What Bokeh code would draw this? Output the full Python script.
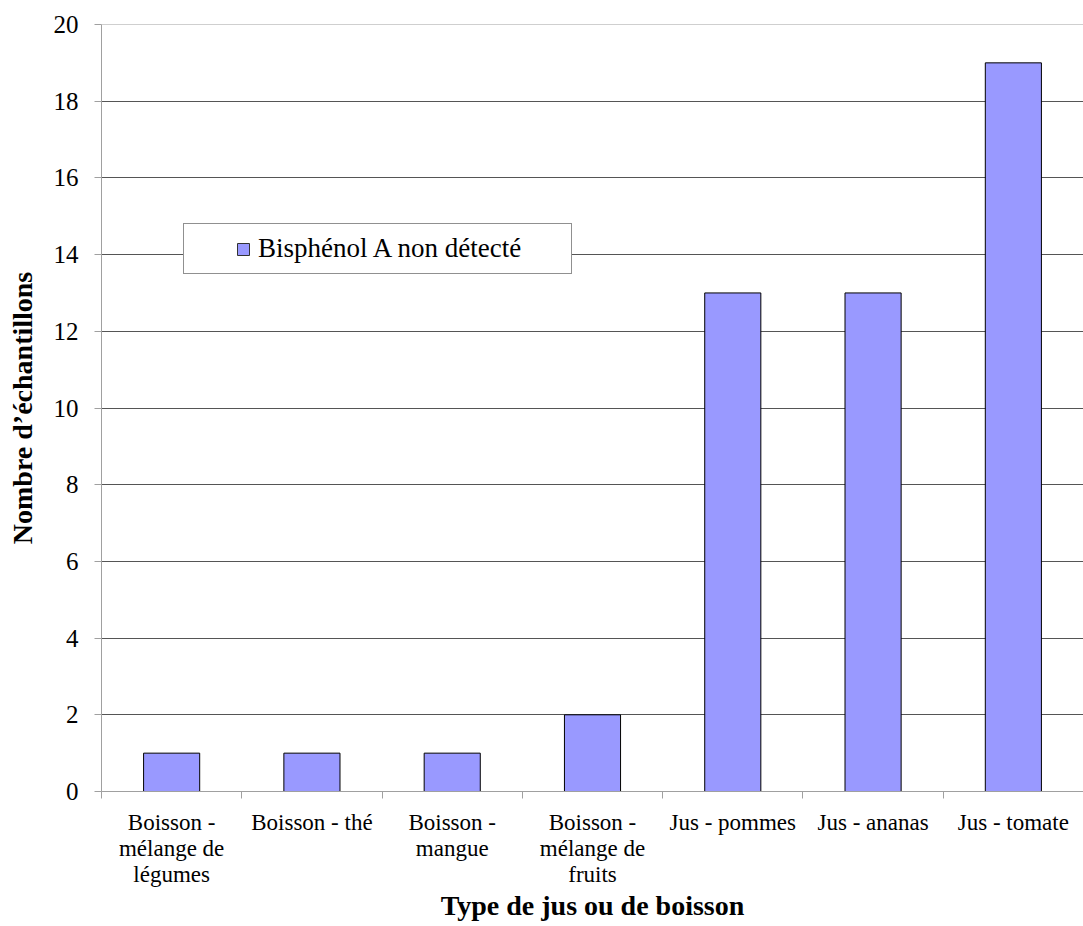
from bokeh.plotting import figure
from bokeh.models import (Range1d, LinearAxis, FixedTicker, Span, Legend, LegendItem,
                          ColumnDataSource, CustomLabelingPolicy)
from bokeh.embed import file_html
from bokeh.resources import INLINE

# Samples without detected bisphenol A, by juice / drink type
categories = ["Boisson - mélange de légumes", "Boisson - thé", "Boisson - mangue",
              "Boisson - mélange de fruits", "Jus - pommes", "Jus - ananas", "Jus - tomate"]
category_labels = ["Boisson -\nmélange de\nlégumes", "Boisson - thé", "Boisson -\nmangue",
                   "Boisson -\nmélange de\nfruits", "Jus - pommes", "Jus - ananas", "Jus - tomate"]
non_detecte = [1, 1, 1, 2, 13, 13, 19]
y_ticks = [0, 2, 4, 6, 8, 10, 12, 14, 16, 18, 20]
series_name = "Bisphénol A non détecté"

FONT = "Liberation Serif"
BAR_FILL = "#9999FF"
AXIS_GREY = "#A0A0A0"
GRID_DARK = "#555555"

# one slot per category: centre of slot i is i + 0.5, slot edges are 0..n
n = len(categories)
centres = [i + 0.5 for i in range(n)]
edges = list(range(n + 1))

src = ColumnDataSource(dict(x=centres, cat=categories, val=non_detecte))

p = figure(width=1083, height=926, output_backend="svg", toolbar_location=None,
           x_range=Range1d(edges[0], edges[-1]),
           y_range=Range1d(y_ticks[0], y_ticks[-1]),
           x_axis_location=None, y_axis_location=None,
           min_border_left=101, min_border_right=0, min_border_top=24, min_border_bottom=135,
           background_fill_color="white", border_fill_color="white")
p.outline_line_color = None
p.xgrid.visible = False

# Horizontal gridlines (dark), top edge drawn in light grey
p.ygrid.ticker = FixedTicker(ticks=y_ticks[1:-1])
p.ygrid.grid_line_color = GRID_DARK
p.ygrid.grid_line_width = 1
p.add_layout(Span(location=y_ticks[-1], dimension="width", line_color=AXIS_GREY, line_width=1))

# Bars
bars = p.vbar(x="x", top="val", width=0.4, source=src,
              fill_color=BAR_FILL, line_color="#000000", line_width=1)

# Legend swatch renderer (zero-size markers, only its legend glyph shows)
swatch = p.scatter(x="x", y="val", source=src, marker="square", size=0,
                   fill_color=BAR_FILL, line_color="#333333", line_width=1)

# Y axis
yaxis = LinearAxis(ticker=FixedTicker(ticks=y_ticks))
yaxis.axis_line_color = AXIS_GREY
yaxis.major_tick_line_color = AXIS_GREY
yaxis.major_tick_out = 7
yaxis.major_tick_in = 0
yaxis.minor_tick_line_color = None
yaxis.major_label_text_font = FONT
yaxis.major_label_text_font_size = "25px"
yaxis.major_label_text_color = "#000000"
yaxis.major_label_standoff = 16
yaxis.axis_label = "Nombre d\u2019échantillons"
yaxis.axis_label_text_font = FONT
yaxis.axis_label_text_font_size = "28px"
yaxis.axis_label_text_font_style = "bold"
yaxis.axis_label_text_color = "#000000"
yaxis.axis_label_standoff = 13
p.add_layout(yaxis, "left")

# X axis: line and tick marks at category boundaries (no labels)
bound_axis = LinearAxis(ticker=FixedTicker(ticks=edges))
bound_axis.axis_line_color = AXIS_GREY
bound_axis.major_tick_line_color = AXIS_GREY
bound_axis.major_tick_out = 7
bound_axis.major_tick_in = 0
bound_axis.minor_tick_line_color = None
bound_axis.major_label_standoff = 0
bound_axis.major_label_policy = CustomLabelingPolicy(
    code="for (const i of Array.from(indices)) indices.unset(i); return indices")
p.add_layout(bound_axis, "below")

# X axis: category names and title
cat_axis = LinearAxis(ticker=FixedTicker(ticks=centres))
cat_axis.axis_line_color = None
cat_axis.major_tick_line_color = None
cat_axis.minor_tick_line_color = None
cat_axis.major_tick_out = 0
cat_axis.major_tick_in = 0
cat_axis.major_label_overrides = dict(zip(centres, category_labels))
cat_axis.major_label_orientation = "horizontal"
cat_axis.major_label_text_font = FONT
cat_axis.major_label_text_font_size = "23px"
cat_axis.major_label_text_color = "#000000"
cat_axis.major_label_text_line_height = 1.05
cat_axis.major_label_standoff = 0
cat_axis.axis_label = "Type de jus ou de boisson"
cat_axis.axis_label_text_font = FONT
cat_axis.axis_label_text_font_size = "28px"
cat_axis.axis_label_text_font_style = "bold"
cat_axis.axis_label_text_color = "#000000"
cat_axis.axis_label_standoff = 0
p.add_layout(cat_axis, "below")

# Legend
legend = Legend(items=[LegendItem(label=series_name, renderers=[swatch])],
                location=(82, 517), orientation="vertical")
legend.margin = 0
legend.padding = 9
legend.title = "\u00a0"
legend.title_location = "left"
legend.title_text_font_size = "26px"
legend.title_standoff = 4
legend.glyph_width = 30
legend.glyph_height = 30
legend.label_standoff = 0
legend.label_width = 304
legend.label_height = 30
legend.label_text_font = FONT
legend.label_text_font_size = "27px"
legend.label_text_color = "#000000"
legend.border_line_color = "#222222"
legend.border_line_width = 1
legend.background_fill_color = "white"
legend.background_fill_alpha = 1
p.add_layout(legend, "center")

open("out.html", "w").write(file_html(p, INLINE))
